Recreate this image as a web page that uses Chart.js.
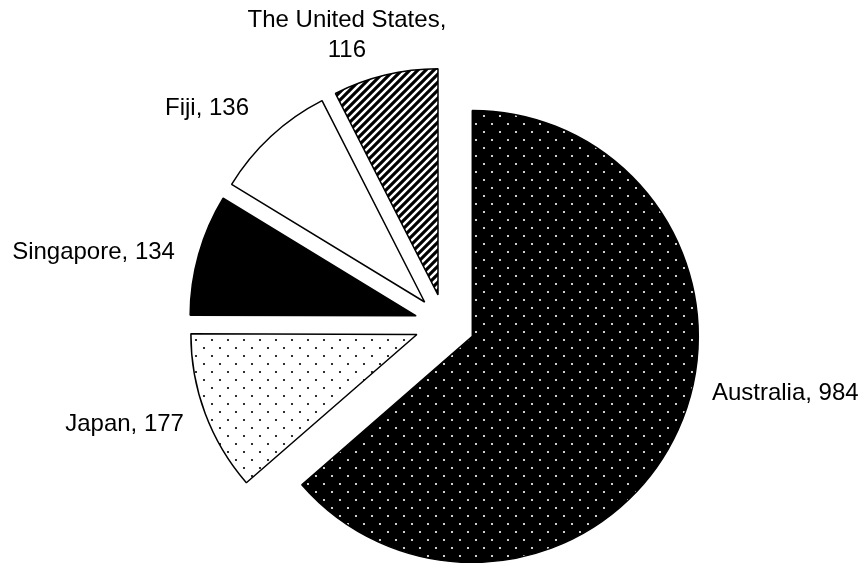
<!DOCTYPE html>
<html><head><meta charset="utf-8">
<script src="https://cdn.jsdelivr.net/npm/chart.js@4/dist/chart.umd.min.js"></script>
<style>html,body{margin:0;padding:0;background:#fff}#wrap{width:863px;height:563px;position:relative}</style>
</head><body><div id="wrap"><canvas id="c"></canvas></div>
<script>
// ---- data ----
const categories = ['Australia', 'Japan', 'Singapore', 'Fiji', 'The United States'];
const values = [984, 177, 134, 136, 116];
const labelLines = [['Australia, 984'], ['Japan, 177'], ['Singapore, 134'], ['Fiji, 136'], ['The United States,', '116']];

// ---- layout (label anchors relative to pie centre, in radius units) ----
const labelPlacement = [
  {dx: 1.181, dy: 0.308, align: 'left'},
  {dx: -1.155, dy: 0.445, align: 'right'},
  {dx: -1.195, dy: -0.316, align: 'right'},
  {dx: -0.867, dy: -0.955, align: 'right'},
  {dx: -0.434, dy: -1.276, align: 'center'}
];
const explodePx = 30;
const pieRadius = 226;

// ---- patterns ----
function dotPattern(bg, fg) {
  const c = document.createElement('canvas'); c.width = 16; c.height = 16;
  const x = c.getContext('2d');
  x.fillStyle = bg; x.fillRect(0, 0, 16, 16);
  x.fillStyle = fg;
  [[4, 4], [12, 12]].forEach(p => { x.beginPath(); x.arc(p[0], p[1], 1.1, 0, Math.PI * 2); x.fill(); });
  return x.createPattern(c, 'repeat');
}
function stripePattern() {
  const s = 8;
  const c = document.createElement('canvas'); c.width = s; c.height = s;
  const x = c.getContext('2d');
  x.fillStyle = '#fff'; x.fillRect(0, 0, s, s);
  x.strokeStyle = '#000'; x.lineWidth = 3.1;
  x.beginPath();
  x.moveTo(-s / 2, s / 2); x.lineTo(s / 2, -s / 2);
  x.moveTo(0, s); x.lineTo(s, 0);
  x.moveTo(s / 2, s * 1.5); x.lineTo(s * 1.5, s / 2);
  x.stroke();
  return x.createPattern(c, 'repeat');
}
const fills = [dotPattern('#000', '#fff'), dotPattern('#fff', '#000'), '#000', '#fff', stripePattern()];

// explode every slice outward along its mid-angle by the same distance
const explodePlugin = {
  id: 'explode',
  afterDatasetUpdate(chart, args) {
    args.meta.data.forEach(arc => {
      const half = (arc.startAngle + arc.endAngle) / 2;
      arc.x += Math.cos(half) * explodePx;
      arc.y += Math.sin(half) * explodePx;
    });
  }
};

const labelPlugin = {
  id: 'sliceLabels',
  afterDatasetsDraw(chart) {
    const ca = chart.chartArea;
    const cx = (ca.left + ca.right) / 2, cy = (ca.top + ca.bottom) / 2;
    const r = chart.getDatasetMeta(0).data[0].outerRadius;
    const ctx = chart.ctx;
    ctx.save();
    ctx.fillStyle = '#000';
    ctx.font = '24px "Liberation Sans", Arial, sans-serif';
    ctx.textBaseline = 'middle';
    const lh = 30;
    labelLines.forEach((lines, i) => {
      const p = labelPlacement[i];
      const x = cx + p.dx * r, y = cy + p.dy * r;
      ctx.textAlign = p.align;
      const y0 = y - (lines.length - 1) * lh / 2;
      lines.forEach((t, j) => ctx.fillText(t, x, y0 + j * lh));
    });
    ctx.restore();
  }
};

new Chart(document.getElementById('c'), {
  type: 'pie',
  data: {
    labels: categories,
    datasets: [{
      data: values,
      backgroundColor: fills,
      borderColor: '#000',
      borderWidth: 1.5,
      offset: 0,
      hoverOffset: 0
    }]
  },
  options: {
    responsive: true,
    maintainAspectRatio: false,
    animation: false,
    events: [],
    radius: pieRadius,
    layout: {padding: {left: 27, top: 85, right: 0, bottom: 0}},
    plugins: {legend: {display: false}, tooltip: {enabled: false}}
  },
  plugins: [explodePlugin, labelPlugin]
});
</script>
</body></html>
